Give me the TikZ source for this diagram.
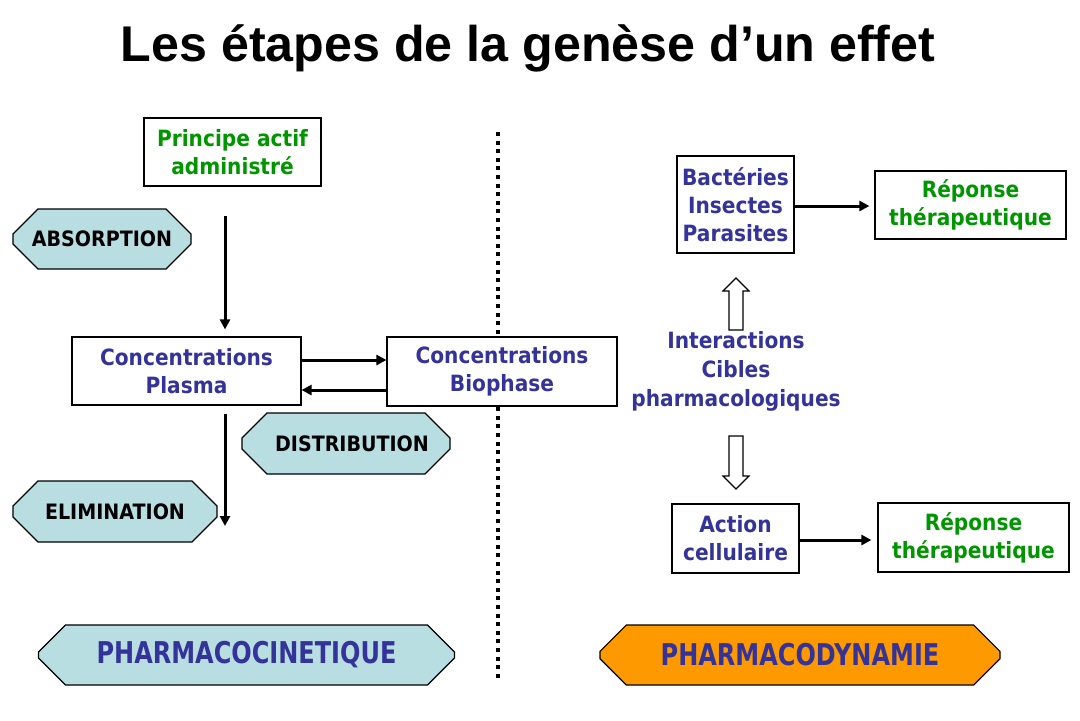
\documentclass[tikz,border=0pt]{standalone}
\usepackage{fontspec}
\setmainfont{DejaVu Sans}[FakeStretch=0.9]
\newfontfamily\titlefont{Liberation Sans}
\newfontfamily\narrowfont[FakeStretch=0.8]{DejaVu Sans}
\usepackage{tikz}
\usetikzlibrary{arrows.meta, shapes.misc, calc}
\definecolor{textblue}{RGB}{51,51,153}
\definecolor{textgreen}{RGB}{0,150,0}
\definecolor{octblue}{RGB}{185,222,226}
\definecolor{octorange}{RGB}{255,153,0}

\tikzset{
  box/.style={draw, line width=0.6pt, fill=white, inner sep=0pt, align=center,
    font=\bfseries\fontsize{11.2}{14}\selectfont},
  octo/.style={chamfered rectangle, chamfered rectangle xsep=9pt,
    chamfered rectangle ysep=8.5pt, draw, line width=0.6pt, fill=octblue,
    inner sep=0pt, font=\bfseries\fontsize{10.6}{12}\selectfont},
  bigocto/.style={octo, chamfered rectangle xsep=6pt, chamfered rectangle ysep=7.5pt,
    text=textblue, minimum width=208pt, minimum height=30pt,
    font=\narrowfont\bfseries\fontsize{15}{18}\selectfont},
  flow/.style={line width=1.5pt, -{Triangle[length=5pt,width=5pt]}},
  hollow/.style={draw, line width=0.6pt, fill=white},
}

\begin{document}
\begin{tikzpicture}[x=0.5pt, y=-0.5pt]
  \useasboundingbox (0,0) rectangle (1080,720);

  \node (title) at (528,48) {\titlefont\bfseries\fontsize{25.1}{30}\selectfont Les étapes de la genèse d’un effet};

  \draw[line width=2pt, dash pattern=on 2pt off 2.3pt] (498,132) -- (498,680);

  % pharmacocinetique
  \node[box, text=textgreen, minimum width=88.5pt, minimum height=34pt] (principe) at (232.5,152) {Principe actif\\administré};
  \node[octo, minimum width=89pt, minimum height=30pt] (absorption) at (102,239) {ABSORPTION};
  \node[box, text=textblue, minimum width=114.5pt, minimum height=34pt] (plasma) at (186.5,371) {Concentrations\\Plasma};
  \node[box, text=textblue, minimum width=115pt, minimum height=34.5pt] (biophase) at (502,371.5) {Concentrations\\Biophase};
  \node[octo, minimum width=104pt, minimum height=30.5pt] (distribution) at (346,443.5) {\hspace{6pt}DISTRIBUTION};
  \node[octo, minimum width=102pt, minimum height=30.5pt] (elimination) at (115,511.5) {ELIMINATION\hspace{8pt}};
  \coordinate (abstop) at (225,216);
  \coordinate (elimend) at (225,526);

  \draw[flow, shorten >=3.5pt] (abstop) -- (abstop |- plasma.north);
  \draw[flow, shorten <=4pt] (abstop |- plasma.south) -- (elimend);
  \draw[flow] (plasma.east |- 0,360) -- (biophase.west |- 0,360);
  \draw[flow] (biophase.west |- 0,390) -- (plasma.east |- 0,390);

  % pharmacodynamie
  \node[box, text=textblue, minimum width=58.5pt, minimum height=48.5pt] (bacteries) at (735.5,204.5) {Bactéries\\Insectes\\Parasites};
  \node[box, text=textgreen, minimum width=95.5pt, minimum height=34pt] (reponse1) at (970.5,205) {Réponse\\thérapeutique};
  \node[align=center, text=textblue, inner sep=0pt, font=\bfseries\fontsize{11.2}{14.5}\selectfont] (interactions) at (736,371) {Interactions\\Cibles\\pharmacologiques};
  \node[box, text=textblue, minimum width=63.5pt, minimum height=34.5pt] (action) at (735.5,538.5) {Action\\cellulaire};
  \node[box, text=textgreen, minimum width=95.5pt, minimum height=34.5pt] (reponse2) at (973.5,537.5) {Réponse\\thérapeutique};

  \draw[flow, shorten >=2.5pt] (bacteries.east |- 0,206) -- (reponse1.west |- 0,206);
  \draw[flow, shorten >=3pt] (action.east |- 0,540) -- (reponse2.west |- 0,540);

  \draw[hollow] (729,330) -- (729,291) -- (723,291) -- (736,278) -- (749,291) -- (743,291) -- (743,330) -- cycle;
  \draw[hollow] (729,436) -- (729,476) -- (723,476) -- (736,489) -- (749,476) -- (743,476) -- (743,436) -- cycle;

  \node[bigocto] (cinetique) at (246.5,655) {PHARMACOCINETIQUE};
  \node[bigocto, fill=octorange, minimum width=200pt] (dynamie) at (800,655) {PHARMACODYNAMIE};
\end{tikzpicture}
\end{document}
